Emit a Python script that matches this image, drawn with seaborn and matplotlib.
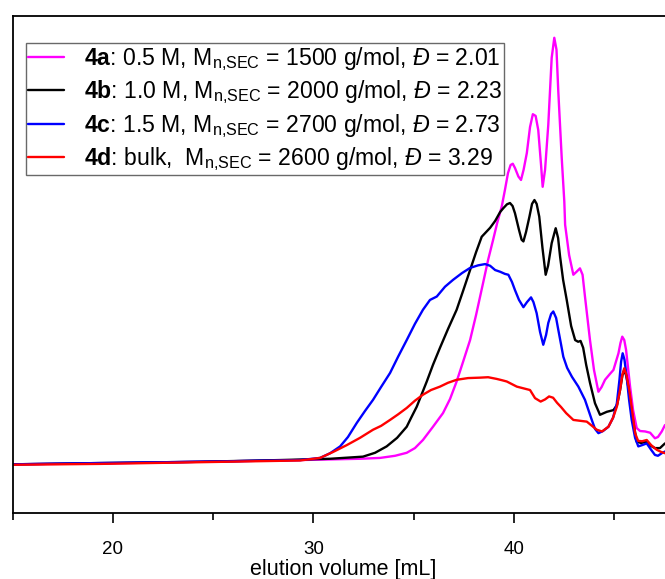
import matplotlib
matplotlib.use("Agg")
import matplotlib.pyplot as plt
import seaborn as sns
import pandas as pd
from matplotlib.lines import Line2D

# ---- data (elution volume [mL], normalised detector signal) ----
x_4a = [15.00, 19.35, 24.34, 29.33, 32.32, 33.32, 34.07, 34.65, 35.06, 35.46, 35.96, 36.46, 36.81, 37.14,
        37.46, 37.81, 38.11, 38.46, 38.71, 38.96, 39.16, 39.39, 39.55, 39.70, 39.83, 39.94, 40.05, 40.22,
        40.35, 40.48, 40.64, 40.80, 40.94, 41.08, 41.21, 41.35, 41.43, 41.55, 41.71, 41.88, 42.01, 42.12,
        42.21, 42.38, 42.51, 42.55, 42.75, 42.96, 43.12, 43.29, 43.42, 43.54, 43.79, 43.99, 44.21, 44.37,
        44.54, 44.79, 44.96, 45.21, 45.31, 45.40, 45.50, 45.59, 45.79, 45.94, 46.12, 46.29, 46.54, 46.79,
        47.03, 47.18, 47.37, 47.53]
y_4a = [-0.001, 0.001, 0.005, 0.009, 0.012, 0.014, 0.019, 0.026, 0.037, 0.056, 0.087, 0.119, 0.152, 0.193,
        0.239, 0.290, 0.349, 0.424, 0.478, 0.525, 0.564, 0.603, 0.642, 0.681, 0.700, 0.703, 0.693, 0.673,
        0.665, 0.689, 0.728, 0.789, 0.819, 0.815, 0.782, 0.700, 0.649, 0.689, 0.794, 0.951, 0.998, 0.970,
        0.872, 0.717, 0.614, 0.560, 0.489, 0.443, 0.450, 0.458, 0.443, 0.392, 0.290, 0.220, 0.169, 0.180,
        0.197, 0.211, 0.220, 0.259, 0.283, 0.298, 0.290, 0.267, 0.181, 0.126, 0.084, 0.077, 0.076, 0.073,
        0.060, 0.063, 0.076, 0.091]

x_4b = [15.00, 19.35, 24.34, 28.33, 30.83, 32.47, 33.07, 33.65, 34.17, 34.65, 34.87, 35.15, 35.65, 35.96,
        36.31, 36.71, 37.14, 37.46, 37.81, 38.11, 38.39, 38.61, 38.81, 39.06, 39.31, 39.47, 39.65, 39.80,
        39.93, 40.05, 40.25, 40.38, 40.47, 40.60, 40.77, 40.90, 41.02, 41.13, 41.26, 41.42, 41.58, 41.70,
        41.88, 42.08, 42.20, 42.30, 42.45, 42.63, 42.85, 43.05, 43.20, 43.32, 43.45, 43.60, 43.79, 44.04,
        44.29, 44.63, 44.96, 45.14, 45.29, 45.41, 45.50, 45.60, 45.70, 45.89, 46.12, 46.34, 46.62, 46.84,
        47.03, 47.28, 47.53]
y_4b = [-0.001, 0.002, 0.005, 0.009, 0.012, 0.017, 0.026, 0.041, 0.061, 0.087, 0.108, 0.134, 0.193, 0.232,
        0.272, 0.316, 0.361, 0.405, 0.454, 0.496, 0.532, 0.543, 0.553, 0.569, 0.590, 0.599, 0.608, 0.611,
        0.604, 0.587, 0.548, 0.525, 0.521, 0.543, 0.579, 0.609, 0.618, 0.609, 0.579, 0.506, 0.443, 0.464,
        0.517, 0.552, 0.529, 0.485, 0.431, 0.384, 0.323, 0.290, 0.286, 0.288, 0.272, 0.232, 0.190, 0.142,
        0.115, 0.122, 0.126, 0.138, 0.173, 0.208, 0.220, 0.206, 0.181, 0.115, 0.052, 0.049, 0.052, 0.042,
        0.037, 0.037, 0.048]

x_4c = [15.00, 19.35, 24.34, 29.33, 30.33, 30.83, 31.33, 31.72, 32.16, 32.57, 32.97, 33.37, 33.82, 34.22,
        34.65, 35.06, 35.46, 35.81, 36.15, 36.56, 36.96, 37.41, 37.81, 38.21, 38.56, 38.81, 39.06, 39.31,
        39.55, 39.72, 39.90, 40.05, 40.25, 40.47, 40.65, 40.85, 40.97, 41.13, 41.30, 41.46, 41.60, 41.71,
        41.85, 41.96, 42.10, 42.21, 42.35, 42.46, 42.65, 42.89, 43.21, 43.54, 43.88, 44.04, 44.21, 44.44,
        44.71, 44.94, 45.13, 45.26, 45.34, 45.42, 45.51, 45.62, 45.74, 45.87, 46.04, 46.20, 46.39, 46.62,
        46.84, 47.03, 47.18, 47.37, 47.53]
y_4c = [-0.001, 0.002, 0.005, 0.009, 0.014, 0.025, 0.041, 0.063, 0.096, 0.124, 0.150, 0.180, 0.213, 0.251,
        0.290, 0.328, 0.361, 0.384, 0.392, 0.415, 0.431, 0.447, 0.459, 0.465, 0.468, 0.464, 0.454, 0.450,
        0.445, 0.443, 0.426, 0.407, 0.384, 0.367, 0.379, 0.390, 0.379, 0.353, 0.309, 0.279, 0.302, 0.330,
        0.351, 0.357, 0.342, 0.314, 0.279, 0.251, 0.225, 0.204, 0.181, 0.150, 0.103, 0.082, 0.072, 0.077,
        0.087, 0.108, 0.142, 0.197, 0.239, 0.259, 0.244, 0.204, 0.150, 0.103, 0.061, 0.041, 0.044, 0.048,
        0.033, 0.021, 0.019, 0.025, 0.029]

x_4d = [15.00, 19.35, 24.34, 29.33, 30.33, 30.98, 31.66, 32.32, 32.97, 33.37, 33.82, 34.22, 34.65, 35.06,
        35.46, 35.86, 36.31, 36.71, 37.14, 37.71, 38.31, 38.71, 39.14, 39.40, 39.64, 40.14, 40.47, 40.80,
        41.05, 41.33, 41.55, 41.75, 41.95, 42.15, 42.35, 42.60, 42.96, 43.29, 43.63, 43.84, 44.13, 44.39,
        44.71, 44.94, 45.13, 45.29, 45.40, 45.50, 45.61, 45.75, 45.89, 46.04, 46.19, 46.39, 46.62, 46.84,
        47.12, 47.34, 47.53]
y_4d = [-0.002, 0.000, 0.004, 0.008, 0.014, 0.028, 0.044, 0.061, 0.080, 0.089, 0.103, 0.116, 0.131, 0.148,
        0.162, 0.173, 0.181, 0.190, 0.197, 0.201, 0.202, 0.203, 0.199, 0.196, 0.193, 0.181, 0.177, 0.173,
        0.154, 0.146, 0.151, 0.158, 0.155, 0.143, 0.133, 0.119, 0.103, 0.101, 0.099, 0.091, 0.080, 0.076,
        0.087, 0.108, 0.134, 0.173, 0.208, 0.224, 0.208, 0.173, 0.126, 0.072, 0.054, 0.053, 0.056, 0.044,
        0.033, 0.028, 0.025]

samples = ["4a", "4b", "4c", "4d"]
colors = ["#FF00FF", "#000000", "#0000FF", "#FF0000"]
labels = [
    r"$\mathbf{4a}$: 0.5 M, M$_{\mathrm{n{,}SEC}}$ = 1500 g/mol, $\mathit{Đ}$ = 2.01",
    r"$\mathbf{4b}$: 1.0 M, M$_{\mathrm{n{,}SEC}}$ = 2000 g/mol, $\mathit{Đ}$ = 2.23",
    r"$\mathbf{4c}$: 1.5 M, M$_{\mathrm{n{,}SEC}}$ = 2700 g/mol, $\mathit{Đ}$ = 2.73",
    r"$\mathbf{4d}$: bulk,  M$_{\mathrm{n{,}SEC}}$ = 2600 g/mol, $\mathit{Đ}$ = 3.29",
]
x_ticks = [20, 30, 40]
x_label = "elution volume [mL]"

frames = []
for s, xs, ys in zip(samples, [x_4a, x_4b, x_4c, x_4d], [y_4a, y_4b, y_4c, y_4d]):
    frames.append(pd.DataFrame({"volume": xs, "signal": ys, "sample": s}))
df = pd.concat(frames, ignore_index=True)

sns.set_style("white")
plt.rcParams["font.family"] = ["Liberation Sans", "DejaVu Sans"]
plt.rcParams["mathtext.fontset"] = "custom"
plt.rcParams["mathtext.rm"] = "Liberation Sans"
plt.rcParams["mathtext.it"] = "Liberation Sans:italic"
plt.rcParams["mathtext.bf"] = "Liberation Sans:bold"
plt.rcParams["text.color"] = "black"
plt.rcParams["axes.labelcolor"] = "black"
plt.rcParams["xtick.color"] = "black"

fig = plt.figure(figsize=(6.65, 5.79), dpi=100)
ax = fig.add_axes([12.7 / 665, 66 / 579, 661.7 / 665, 497 / 579])

sns.lineplot(data=df, x="volume", y="signal", hue="sample", hue_order=samples,
             palette=dict(zip(samples, colors)), sort=False, estimator=None,
             linewidth=1.7, ax=ax, legend=False)

ax.set_xlim(15, 48)
ax.set_ylim(-0.115, 1.049)
ax.set_yticks([])
ax.set_xticks(x_ticks)
ax.set_xticks([15, 25, 35, 45], minor=True)
ax.tick_params(axis="x", which="major", direction="out", length=7, width=1.2,
               labelsize=13.5, pad=13, bottom=True, colors="black")
ax.tick_params(axis="x", which="minor", direction="out", length=5, width=1.2, bottom=True)
ax.set_xlabel(x_label, fontsize=15.5, labelpad=1, color="black")
ax.set_ylabel("")
for side in ["left", "bottom", "top", "right"]:
    ax.spines[side].set_color("black")
    ax.spines[side].set_linewidth(1.3)

handles = [Line2D([0], [0], color=c, lw=1.7) for c in colors]
leg = ax.legend(handles, labels, loc="upper left",
                bbox_to_anchor=(26 / 665, 1 - 43 / 579), bbox_transform=fig.transFigure,
                borderaxespad=0, fontsize=16.6, frameon=True, fancybox=False,
                handlelength=1.55, handletextpad=0.85, labelspacing=0.24,
                borderpad=0.1)
leg.get_frame().set_edgecolor("#444444")
leg.get_frame().set_linewidth(1.0)
for t in leg.get_texts():
    t.set_color("black")

fig.savefig("out.png", dpi=100)
